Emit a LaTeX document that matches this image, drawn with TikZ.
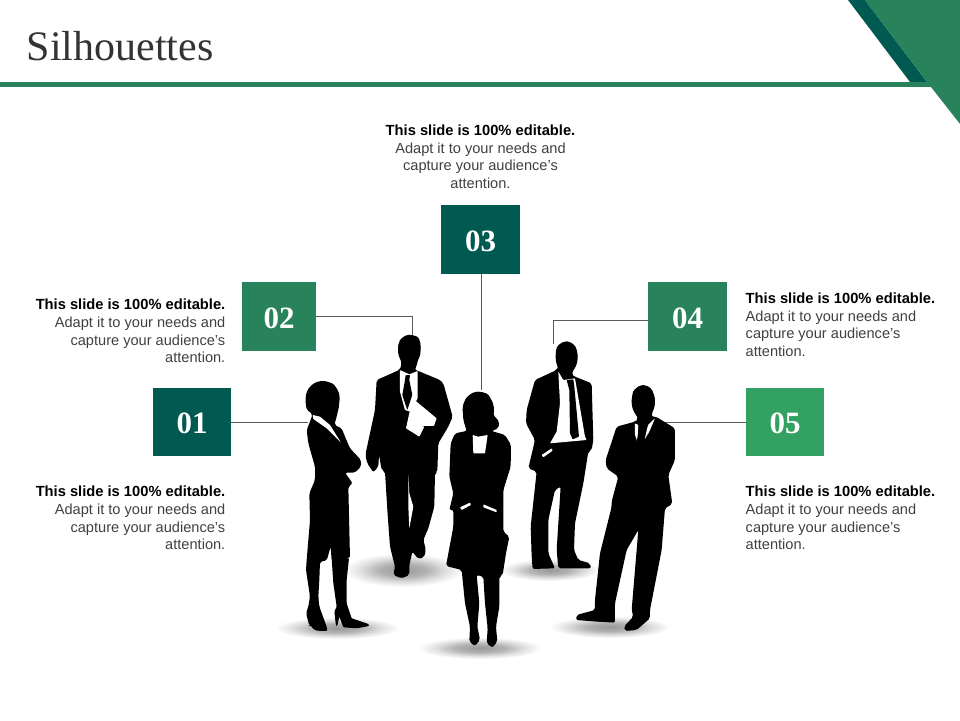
\documentclass[tikz,border=0pt]{standalone}
\usepackage{fontspec}
\setmainfont{Liberation Sans}
\newfontfamily\serifnum{Liberation Serif}
\definecolor{dteal}{HTML}{005A52}
\definecolor{mgreen}{HTML}{28835D}
\definecolor{lgreen}{HTML}{33A161}
\definecolor{txtgray}{HTML}{404040}
\definecolor{titlegray}{HTML}{333333}
\definecolor{linegray}{HTML}{595959}
\pgfdeclareradialshading{floorshade}{\pgfpoint{0bp}{0bp}}{color(0bp)=(black!40); color(10bp)=(black!30); color(18bp)=(black!12); color(25bp)=(white); color(50bp)=(white)}
\tikzset{
  numbox/.style={minimum width=78pt,minimum height=68.5pt,inner sep=0pt,text height=23pt,text depth=0pt,text=white,font=\serifnum\bfseries\fontsize{31}{31}\selectfont},
  blurb/.style={inner sep=0pt,text=txtgray,font=\fontsize{14.6}{17.7}\selectfont},
  conn/.style={draw=linegray,line width=0.75pt},
  sil/.style={fill=black,rounded corners=2pt},
  silw/.style={fill=white,rounded corners=0.6pt},
  zoomA/.style={shift={(280,320)},x=0.3333pt,y=-0.3333pt},
  zoomB/.style={shift={(420,320)},x=0.3333pt,y=-0.3333pt},
}
\newcommand{\bhead}{{\fontsize{14.7}{17.7}\selectfont\textbf{\textcolor{black}{This slide is 100\% editable.}}}}
\newcommand{\floorshadow}[4]{\shade[shading=floorshade] (#1,#2) ellipse [x radius=#3,y radius=#4];}
\begin{document}
\begin{tikzpicture}[x=1pt,y=-1pt]
\useasboundingbox (0,0) rectangle (960,720);
% header
\fill[dteal] (848,0) -- (865,0) -- (927,82) -- (910,82) -- cycle;
\fill[mgreen] (865,0) -- (960,0) -- (960,124) -- (931,87) -- (927,82) -- cycle;
\fill[mgreen] (0,82) rectangle (931,87);
\node[anchor=base west,inner sep=0pt,text=titlegray,font=\serifnum\fontsize{42}{42}\selectfont] (title) at (26.5,60.5) {Silhouettes};
% floor shadows
\floorshadow{403}{570}{60}{17}
\floorshadow{337}{628}{62}{11}
\floorshadow{480}{648}{62}{11}
\floorshadow{550}{570}{50}{11}
\floorshadow{610}{627}{60}{11}
% number boxes
\node[numbox,fill=dteal,minimum width=78pt] (box1) at (192,422) {01};
\node[numbox,fill=mgreen,minimum width=74pt] (box2) at (279,316.5) {02};
\node[numbox,fill=dteal,minimum width=79pt] (box3) at (480.5,239.5) {03};
\node[numbox,fill=mgreen,minimum width=79pt] (box4) at (687.5,316.5) {04};
\node[numbox,fill=lgreen,minimum width=78pt] (box5) at (785,422) {05};
% connector ends
\coordinate (end1) at (308,422);
\coordinate (end2) at (412,336);
\coordinate (end3) at (481.5,390);
\coordinate (end4) at (553,344);
\coordinate (end5) at (662,422);
\draw[conn] (box1.east) -- (end1);
\draw[conn] (box2.east) -| (end2);
\draw[conn] (end3 |- box3.south) -- (end3);
\draw[conn] (box4.west |- 0,320) -| (end4);
\draw[conn] (box5.west) -- (end5);
% texts
\node[blurb,anchor=north east,align=right] (t1) at (225.5,486) {\bhead\\Adapt it to your needs and\\capture your audience's\\attention.};
\node[blurb,anchor=north east,align=right] (t2) at (225.5,299) {\bhead\\Adapt it to your needs and\\capture your audience's\\attention.};
\node[blurb,anchor=north,align=center] (t3) at (480.5,124.5) {\bhead\\Adapt it to your needs and\\capture your audience's\\attention.};
\node[blurb,anchor=north west,align=left] (t4) at (745.5,292.5) {\bhead\\Adapt it to your needs and\\capture your audience's\\attention.};
\node[blurb,anchor=north west,align=left] (t5) at (745.5,486) {\bhead\\Adapt it to your needs and\\capture your audience's\\attention.};
% woman left + man with folder
\begin{scope}[zoomA]
\fill (128,235) ellipse [x radius=51,y radius=52];
\path[sil] (130,184)--(160,190)--(175,215)--(178,255)--(170,290)--(163,315)--(185,325)--(195,350)--(210,385)--(243,420)--(243,440)--(225,458)--(195,458)--(218,490)--(205,500)--(210,715)--(155,722)--(152,680)--(140,722)--(120,725)--(118,780)--(115,830)--(118,860)--(140,920)--(143,933)--(105,932)--(90,915)--(88,917)--(78,880)--(85,860)--(90,830)--(78,750)--(80,720)--(90,600)--(88,520)--(105,480)--(105,440)--(85,370)--(80,330)--(90,305)--(98,282)--(80,270)--(76,240)--(90,205)--(110,188)--cycle;
\path[sil,rounded corners=1pt] (155,715)--(207,715)--(200,780)--(200,850)--(215,895)--(265,912)--(268,918)--(230,925)--(190,922)--(178,890)--(172,918)--(168,918)--(163,875)--(170,860)--(160,790)--cycle;
\path[silw] (98,285)--(120,290)--(150,315)--(183,368)--(140,325)--(100,297)--cycle;
\fill (388,90) ellipse [x radius=34,y radius=46];
\path[sil] (390,44)--(415,50)--(423,75)--(418,100)--(412,130)--(405,150)--(415,153)--(480,180)--(490,190)--(518,290)--(505,320)--(475,370)--(472,455)--(465,460)--(463,560)--(445,625)--(430,660)--(438,690)--(432,712)--(415,717)--(397,695)--(395,705)--(388,735)--(388,765)--(365,775)--(340,765)--(345,740)--(330,680)--(322,570)--(315,455)--(305,450)--(297,405)--(295,440)--(280,457)--(262,430)--(256,405)--(285,270)--(290,180)--(358,150)--(365,135)--(358,100)--(353,80)--(362,55)--cycle;
\path[silw] (385,460)--(388,520)--(400,560)--(388,625)--(385,560)--cycle;
\path[silw] (360,150)--(388,163)--(413,153)--(413,235)--(390,275)--(375,270)--(360,215)--cycle;
\path[sil,rounded corners=0.5pt] (377,165)--(390,165)--(388,180)--(397,225)--(382,270)--(367,225)--(375,180)--cycle;
\path[silw] (400,237)--(470,295)--(462,318)--(425,318)--(433,320)--(418,350)--(378,325)--(390,270)--cycle;
\end{scope}
% centre woman, man with tie, man with crossed arms
\begin{scope}[zoomB]
\fill (175,270) ellipse [x radius=47,y radius=55];
\path[sil] (180,215)--(205,222)--(218,250)--(220,285)--(238,305)--(235,325)--(215,333)--(255,345)--(273,375)--(272,440)--(250,510)--(250,635)--(268,650)--(258,700)--(248,765)--(238,770)--(238,860)--(228,920)--(232,965)--(217,983)--(200,970)--(203,925)--(195,850)--(190,770)--(170,765)--(178,850)--(172,920)--(180,960)--(165,978)--(148,965)--(150,920)--(135,850)--(125,750)--(78,738)--(100,620)--(100,570)--(88,570)--(100,520)--(88,470)--(92,370)--(105,340)--(140,333)--(130,300)--(128,260)--(140,230)--cycle;
\path[silw] (158,345)--(175,350)--(203,345)--(195,400)--(160,400)--cycle;
\path[silw] (120,562)--(150,548)--(153,555)--(125,570)--cycle;
\path[silw] (190,553)--(230,570)--(230,577)--(190,562)--cycle;
\fill (440,112) ellipse [x radius=33,y radius=48];
\path[sil] (440,64)--(465,75)--(473,100)--(468,130)--(455,165)--(465,170)--(515,190)--(520,360)--(515,390)--(505,395)--(490,490)--(465,610)--(462,690)--(475,720)--(510,730)--(513,745)--(415,745)--(410,690)--(422,500)--(405,510)--(385,600)--(385,700)--(405,745)--(338,747)--(335,710)--(332,620)--(350,455)--(325,445)--(345,360)--(318,310)--(320,270)--(345,180)--(410,150)--(415,140)--(408,115)--(408,85)--(420,70)--cycle;
\path[silw] (415,155)--(430,180)--(465,175)--(495,350)--(500,360)--(390,370)--(410,335)--(420,250)--cycle;
\path[sil,rounded corners=0.5pt] (440,180)--(460,178)--(463,200)--(477,350)--(458,358)--(450,340)--(448,210)--cycle;
\path[silw] (365,405)--(395,385)--(398,392)--(370,412)--cycle;
\fill (670,245) ellipse [x radius=35,y radius=50];
\path[sil] (665,195)--(695,205)--(705,240)--(700,260)--(695,290)--(708,290)--(765,325)--(765,420)--(745,465)--(757,552)--(735,565)--(725,690)--(690,870)--(690,895)--(650,930)--(615,933)--(612,920)--(640,890)--(635,870)--(655,630)--(620,690)--(585,850)--(585,908)--(530,905)--(468,900)--(470,885)--(525,870)--(525,840)--(540,700)--(575,560)--(575,545)--(595,470)--(560,445)--(557,420)--(590,320)--(645,305)--(655,297)--(640,270)--(635,240)--(640,210)--cycle;
\path[silw] (645,310)--(655,315)--(652,365)--(645,345)--cycle;
\path[silw] (705,295)--(684,315)--(674,358)--(688,335)--cycle;
\path[sil,rounded corners=0.5pt] (658,316)--(683,316)--(675,330)--(672,350)--(662,372)--(650,360)--(662,330)--cycle;
\end{scope}
\end{tikzpicture}
\end{document}
